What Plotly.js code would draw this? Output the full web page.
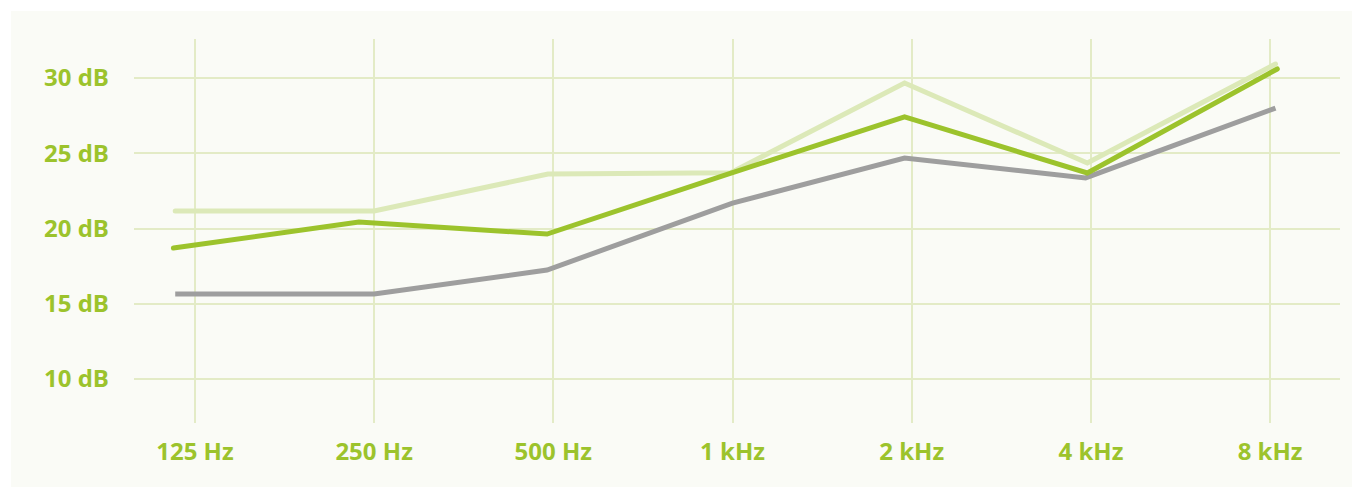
<!DOCTYPE html>
<html>
<head>
<meta charset="utf-8">
<script src="https://cdn.plot.ly/plotly-3.0.1.min.js"></script>
<style>
  html, body { margin: 0; padding: 0; background: #ffffff; }
  #chart { position: absolute; left: 11px; top: 11px; width: 1341px; height: 476px; }
  .scatterlayer .trace path.js-line { stroke-linecap: round; }
  .scatterlayer .trace:nth-child(1) path.js-line { stroke-linecap: butt; }
</style>
</head>
<body>
<div id="chart"></div>
<script>
// Category tick labels (positions 0..6)
const tickLabels = ["125 Hz", "250 Hz", "500 Hz", "1 kHz", "2 kHz", "4 kHz", "8 kHz"];
const tickPositions = [0, 1, 2, 3, 4, 5, 6];
const yTickVals = [10, 15, 20, 25, 30];
const yTickText = ["10 dB", "15 dB", "20 dB", "25 dB", "30 dB"];

// Grey series
const greyX = [-0.11, 1.0, 1.965, 3.0, 3.96, 4.97, 6.03];
const greyY = [15.65, 15.65, 17.24, 21.69, 24.68, 23.36, 28.0];

// Light green series
const lightX = [-0.11, 1.0, 1.97, 2.99, 3.96, 4.98, 6.03];
const lightY = [21.16, 21.16, 23.62, 23.7, 29.67, 24.35, 30.93];

// Strong green series
const greenX = [-0.12, 0.915, 1.965, 2.97, 3.96, 4.98, 6.04];
const greenY = [18.7, 20.43, 19.63, 23.6, 27.41, 23.69, 30.6];

const tickColor = "#9cc32c";
const gridColor = "#e3ebc6";

const traces = [
  { x: greyX, y: greyY, mode: "lines", line: { color: "#9e9e9e", width: 5 }, hoverinfo: "skip" },
  { x: lightX, y: lightY, mode: "lines", line: { color: "#dce9b8", width: 5 }, hoverinfo: "skip" },
  { x: greenX, y: greenY, mode: "lines", line: { color: "#9cc32c", width: 5 }, hoverinfo: "skip" }
];

const tickFont = { family: "Open Sans, Noto Sans, sans-serif", size: 24, color: tickColor, weight: 700 };

const layout = {
  width: 1341,
  height: 476,
  paper_bgcolor: "#fafbf6",
  plot_bgcolor: "#fafbf6",
  showlegend: false,
  margin: { l: 123, r: 12, t: 28, b: 64 },
  xaxis: {
    range: [-0.34, 6.39],
    tickmode: "array",
    tickvals: tickPositions,
    ticktext: tickLabels,
    showgrid: true,
    gridcolor: gridColor,
    gridwidth: 2,
    zeroline: false,
    showline: false,
    ticks: "",
    tickfont: tickFont,
    ticklabelstandoff: 12,
    fixedrange: true
  },
  yaxis: {
    range: [7.08, 32.59],
    tickmode: "array",
    tickvals: yTickVals,
    ticktext: yTickText,
    showgrid: true,
    gridcolor: gridColor,
    gridwidth: 2,
    zeroline: false,
    showline: false,
    ticks: "",
    tickfont: tickFont,
    ticklabelstandoff: 24,
    fixedrange: true
  }
};

Plotly.newPlot("chart", traces, layout, { displayModeBar: false, staticPlot: true });
</script>
</body>
</html>
